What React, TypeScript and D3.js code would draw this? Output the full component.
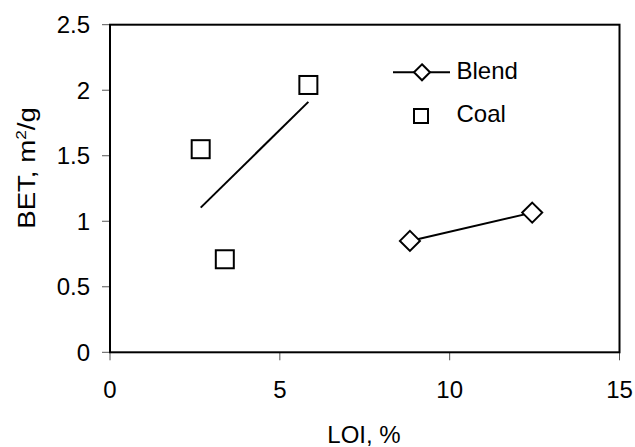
import React from "react";
import * as d3 from "d3";

const coalLOI = [2.67, 5.84, 3.38];
const coalBET = [1.55, 2.04, 0.71];
const blendLOI = [8.83, 12.43];
const blendBET = [0.85, 1.066];
const xTicks = [0, 5, 10, 15];
const yTicks = [0, 0.5, 1, 1.5, 2, 2.5];
const seriesNames = ["Blend", "Coal"];

const W = 635;
const H = 447;
const FONT = "'Liberation Sans', Arial, sans-serif";

export default function App() {
  const x = d3.scaleLinear().domain([0, 15]).range([110, 619.5]);
  const y = d3.scaleLinear().domain([0, 2.5]).range([352.3, 24.7]);

  // linear trend of coal points
  const mx = d3.mean(coalLOI) as number;
  const my = d3.mean(coalBET) as number;
  let sxy = 0, sxx = 0;
  coalLOI.forEach((v, i) => {
    sxy += (v - mx) * (coalBET[i] - my);
    sxx += (v - mx) * (v - mx);
  });
  const slope = sxy / sxx;
  const icpt = my - slope * mx;
  const x0 = d3.min(coalLOI) as number;
  const x1 = d3.max(coalLOI) as number;
  const trend: [number, number][] = [
    [x0, icpt + slope * x0],
    [x1, icpt + slope * x1],
  ];

  const line = d3
    .line<[number, number]>()
    .x((d) => x(d[0]))
    .y((d) => y(d[1]));

  const blendPts: [number, number][] = blendLOI.map((v, i) => [v, blendBET[i]]);
  const coalPts: [number, number][] = coalLOI.map((v, i) => [v, coalBET[i]]);

  const diamond = (cx: number, cy: number, r: number) =>
    `M${cx},${cy - r}L${cx + r},${cy}L${cx},${cy + r}L${cx - r},${cy}Z`;

  const sq = 18;
  const [x0r, x1r] = x.range();
  const [y0r, y1r] = y.range();

  return (
    <svg
      width={W}
      height={H}
      style={{ position: "absolute", left: 0, top: 0, background: "#fff" }}
      fontFamily={FONT}
    >
      <rect x={0} y={0} width={W} height={H} fill="#fff" />
      {/* ticks */}
      {yTicks.map((t) => (
        <g key={"y" + t}>
          <line x1={x0r - 8} x2={x0r} y1={y(t)} y2={y(t)} stroke="#555" strokeWidth={1} />
          <text x={90} y={y(t) + 8.5} textAnchor="end" fontSize={24} fill="#000">
            {t}
          </text>
        </g>
      ))}
      {xTicks.map((t) => (
        <g key={"x" + t}>
          <line x1={x(t)} x2={x(t)} y1={y0r} y2={y0r + 8} stroke="#555" strokeWidth={1} />
          <text x={x(t)} y={397.5} textAnchor="middle" fontSize={24} fill="#000">
            {t}
          </text>
        </g>
      ))}
      {/* frame */}
      <rect
        x={x0r}
        y={y1r}
        width={x1r - x0r}
        height={y0r - y1r}
        fill="none"
        stroke="#000"
        strokeWidth={2}
      />
      {/* coal trend */}
      <path d={line(trend) as string} fill="none" stroke="#000" strokeWidth={2} />
      {/* blend line */}
      <path d={line(blendPts) as string} fill="none" stroke="#000" strokeWidth={2} />
      {blendPts.map((p, i) => (
        <path key={"b" + i} d={diamond(x(p[0]), y(p[1]), 10)} fill="#fff" stroke="#000" strokeWidth={2} />
      ))}
      {coalPts.map((p, i) => (
        <rect
          key={"c" + i}
          x={x(p[0]) - sq / 2}
          y={y(p[1]) - sq / 2}
          width={sq}
          height={sq}
          fill="#fff"
          stroke="#000"
          strokeWidth={2}
        />
      ))}
      {/* legend */}
      <line x1={393} x2={450} y1={72.3} y2={72.3} stroke="#000" strokeWidth={2} />
      <path d={diamond(422, 72.3, 8)} fill="#fff" stroke="#000" strokeWidth={2} />
      <text x={456.5} y={79} fontSize={24} fill="#000">
        {seriesNames[0]}
      </text>
      <rect x={421 - 7} y={116 - 7} width={14} height={14} fill="#fff" stroke="#000" strokeWidth={2} />
      <text x={456.5} y={121.7} fontSize={24} fill="#000">
        {seriesNames[1]}
      </text>
      {/* axis titles */}
      <text x={364} y={443} textAnchor="middle" fontSize={24} fill="#000">
        LOI, %
      </text>
      <text
        transform={`translate(35, 168) rotate(-90) scale(1.15, 1)`}
        textAnchor="middle"
        fontSize={24}
        fill="#000"
      >
        BET, m<tspan dy={-9} fontSize={15}>2</tspan>
        <tspan dy={9}>/g</tspan>
      </text>
    </svg>
  );
}
